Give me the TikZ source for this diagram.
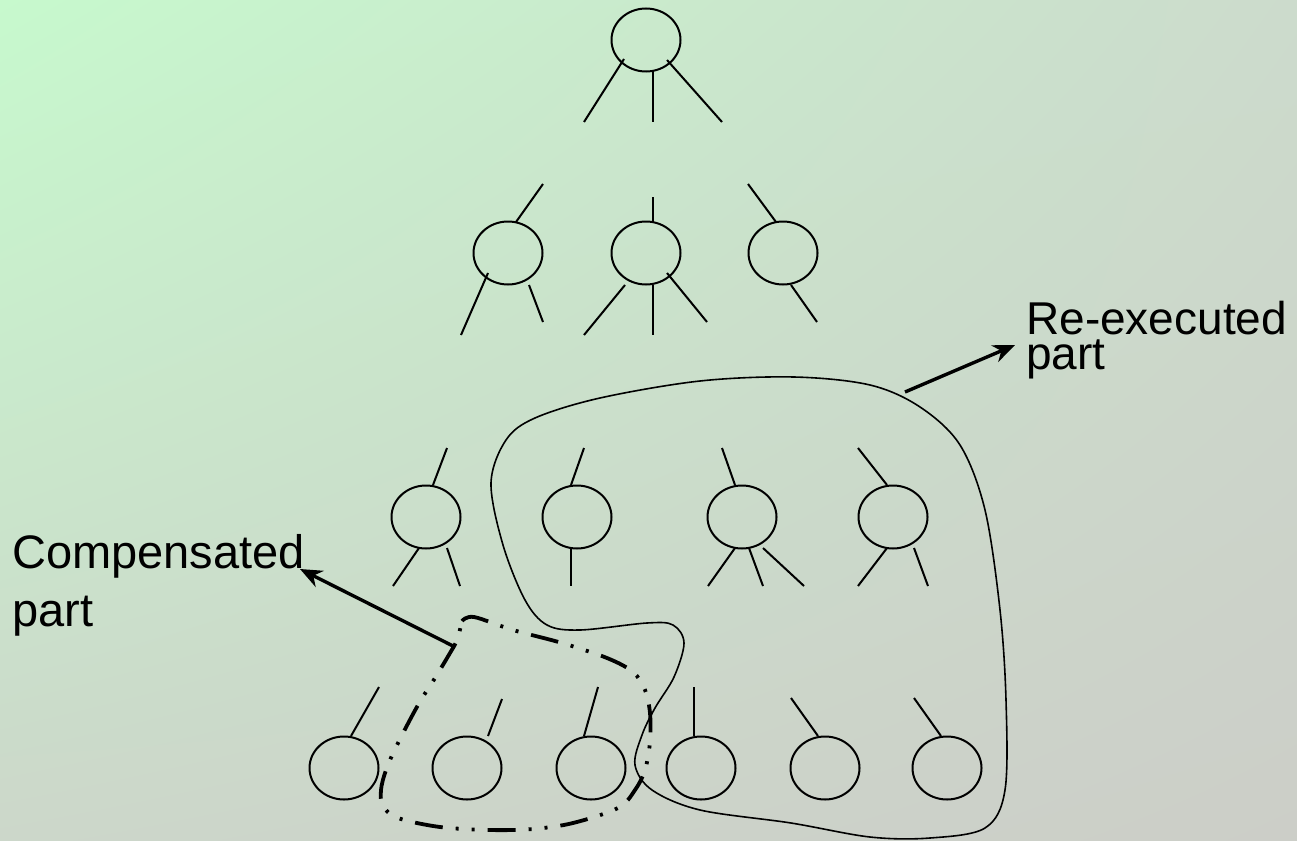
\documentclass[tikz,border=0pt]{standalone}
\usepackage{fontspec}
\setmainfont{Liberation Sans}
\usetikzlibrary{arrows.meta,shapes.geometric,shadings}

\definecolor{bgtl}{RGB}{199,249,205}
\definecolor{bgtr}{RGB}{204,219,204}
\definecolor{bgbl}{RGB}{204,215,202}
\definecolor{bgbr}{RGB}{204,206,200}

\begin{document}
\begin{tikzpicture}[
  x=1pt, y=-1pt,
  nd/.style={draw, ellipse, line width=2pt, minimum width=69pt,
             minimum height=63pt, inner sep=0pt},
  stub/.style={line width=2pt},
  lbl/.style={font=\fontsize{47}{58}\selectfont, align=left,
              inner sep=0pt, anchor=north west},
  >={Stealth[length=22pt,width=18pt]},
  pointer/.style={->, line width=3.4pt}
]
  % --- background
  \shade[upper left=bgtl, upper right=bgtr, lower left=bgbl, lower right=bgbr]
    (0,0) rectangle (1297,840);
  \useasboundingbox (0,0) rectangle (1297,840);

  % --- tree levels
  \node[nd] (r) at (646,40) {};
  \foreach \n/\x in {a1/508, a2/646, a3/783}
    \node[nd] (\n) at (\x,253) {};
  \foreach \n/\x in {b1/426, b2/577, b3/742, b4/893}
    \node[nd] (\n) at (\x,517) {};
  \foreach \n/\x in {c1/344, c2/467, c3/591, c4/701, c5/825, c6/947}
    \node[nd] (\n) at (\x,768) {};

  % --- loose edges
  \foreach \n/\sx/\sy/\ex/\ey in {
      r/-22/19/-40/63, r/7/31/0/51, r/21/20/55/62,
      a1/8/-31/27/-38, a1/-20/20/-27/62, a1/21/32/14/37,
      a2/7/-31/0/-25, a2/-21/32/-41/50, a2/7/32/0/50, a2/21/20/40/49,
      a3/-7/-31/-28/-38, a3/8/32/26/37,
      b1/7/-32/14/-37, b1/-7/31/-26/38, b1/21/31/13/38,
      b2/-6/-32/13/-37, b2/-6/31/0/38,
      b3/-7/-32/-13/-37, b3/-7/31/-27/38, b3/7/31/14/38, b3/21/31/41/38,
      b4/-6/-32/-29/-37, b4/-6/31/-29/38, b4/21/31/14/38,
      c1/7/-32/28/-49, c2/21/-32/14/-37, c3/-7/-32/14/-49,
      c4/-7/-32/0/-49, c5/-7/-32/-27/-38, c6/-6/-32/-27/-38}
    \draw[stub] (\n) ++(\sx,\sy) -- ++(\ex,\ey);

  % --- re-executed region
  \draw[line width=1.6pt] plot[smooth cycle, tension=0.55] coordinates {
      (491,483) (506,440) (535,418) (600,398) (700,381) (794,377)
      (870,385) (920,407) (960,445) (985,510) (1000,610) (1006,700)
      (1005,790) (985,828) (930,838) (870,837) (791,823) (700,810)
      (652,790) (635,765) (642,735) (655,708) (674,677) (684,643)
      (673,625) (647,623) (580,630) (547,625) (525,600) (503,545)};

  % --- compensated region
  \draw[line width=3.8pt, line join=round,
        dash pattern=on 28pt off 13pt on 3pt off 13pt on 3pt off 13pt]
    plot[smooth, tension=0.55] coordinates {
      (462,621) (474,617) (513,630) (562,643) (607,658) (633,672)
      (645,690) (650,713) (650,742) (645,770) (635,790) (618,808)
      (573,823) (533,829) (490,830) (440,827) (398,818) (383,806)
      (381,790) (386,770) (397,745) (418,705) (435,678) (450,653)
      (457,640) (462,621)};

  % --- labels
  \node[lbl] (comp) at (12,534) {Compensated\\part};
  \node[lbl, font=\fontsize{46}{35}\selectfont] (reex) at (1026,301)
    {Re-executed\\part};

  \coordinate (ctail) at (455,647);
  \coordinate (chead) at (300,569);
  \draw[pointer] (ctail) -- (chead);
  \coordinate (rtail) at (905,392);
  \coordinate (rhead) at (1015,345);
  \draw[pointer] (rtail) -- (rhead);
\end{tikzpicture}
\end{document}
